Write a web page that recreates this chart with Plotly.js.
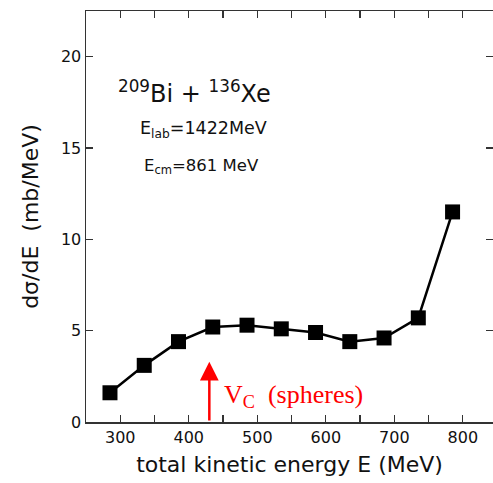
<!DOCTYPE html>
<html>
<head>
<meta charset="utf-8">
<script src="https://cdn.plot.ly/plotly-3.0.1.min.js"></script>
<style>
  html, body { margin: 0; padding: 0; background: #fff; }
  #chart { width: 493px; height: 483px; }
</style>
</head>
<body>
<div id="chart"></div>
<script>
// Total kinetic energy spectrum, 209Bi + 136Xe at E_lab = 1422 MeV
const energy = [285, 335, 385, 435, 485, 535, 585, 635, 685, 735, 785];
const dsigma = [1.6, 3.1, 4.4, 5.2, 5.3, 5.1, 4.9, 4.4, 4.6, 5.7, 11.5];

// Coulomb barrier for touching spheres
const vcEnergy = 430;
const vcArrowTop = 3.3;

const xTickVals = [300, 400, 500, 600, 700, 800];
const yTickVals = [0, 5, 10, 15, 20];

const FONT = "DejaVu Sans, sans-serif";

const trace = {
  x: energy,
  y: dsigma,
  type: "scatter",
  mode: "lines+markers",
  line: { color: "#000", width: 2.5 },
  marker: { symbol: "square", size: 15, color: "#000" },
  hoverinfo: "skip",
  cliponaxis: false
};

const axisCommon = {
  showgrid: false,
  zeroline: false,
  showline: true,
  linecolor: "#333",
  linewidth: 1.5,
  mirror: "allticks",
  ticks: "inside",
  ticklen: 7,
  tickwidth: 1.2,
  tickcolor: "#333",
  tickfont: { family: FONT, size: 16, color: "#111" }
};

const layout = {
  width: 493,
  height: 483,
  margin: { l: 86, r: 0, t: 11, b: 61 },
  paper_bgcolor: "#fff",
  plot_bgcolor: "#fff",
  showlegend: false,
  xaxis: Object.assign({}, axisCommon, {
    range: [250, 844],
    tickvals: xTickVals,
    ticktext: xTickVals.map(String),
    // unlabelled ticks every 50 MeV
    minor: { tick0: 250, dtick: 50, ticks: "inside", ticklen: 7, tickwidth: 1.2, tickcolor: "#333", showgrid: false },
    title: { text: "total kinetic energy E (MeV)", font: { family: FONT, size: 22, color: "#111" }, standoff: 11 }
  }),
  yaxis: Object.assign({}, axisCommon, {
    range: [0, 22.5],
    tickvals: yTickVals,
    ticktext: yTickVals.map(String),
    title: { text: "dσ/dE  (mb/MeV)", font: { family: FONT, size: 22, color: "#111" }, standoff: 16 }
  }),
  annotations: [
    {
      x: 409, y: 18.05, xref: "x", yref: "y", showarrow: false,
      text: "<sup>209</sup>Bi + <sup>136</sup>Xe",
      font: { family: FONT, size: 24, color: "#111" }
    },
    {
      x: 422, y: 16.0, xref: "x", yref: "y", showarrow: false,
      text: "E<sub>lab</sub>=1422MeV",
      font: { family: FONT, size: 17.5, color: "#111" }
    },
    {
      x: 418, y: 14.0, xref: "x", yref: "y", showarrow: false,
      text: "E<sub>cm</sub>=861 MeV",
      font: { family: FONT, size: 16.5, color: "#111" }
    },
    {
      x: vcEnergy, y: vcArrowTop, ax: vcEnergy, ay: 0,
      xref: "x", yref: "y", axref: "x", ayref: "y",
      showarrow: true, text: "", arrowhead: 2, arrowsize: 1.5,
      arrowwidth: 2.5, arrowcolor: "#ff0000"
    },
    {
      x: 449, y: 1.45, xref: "x", yref: "y", xanchor: "left", showarrow: false,
      text: "V<sub>C</sub>&nbsp; (spheres)",
      font: { family: "Liberation Serif, Times New Roman, serif", size: 26, color: "#ff0000" }
    }
  ]
};

Plotly.newPlot("chart", [trace], layout, { displayModeBar: false, staticPlot: true });
</script>
</body>
</html>
